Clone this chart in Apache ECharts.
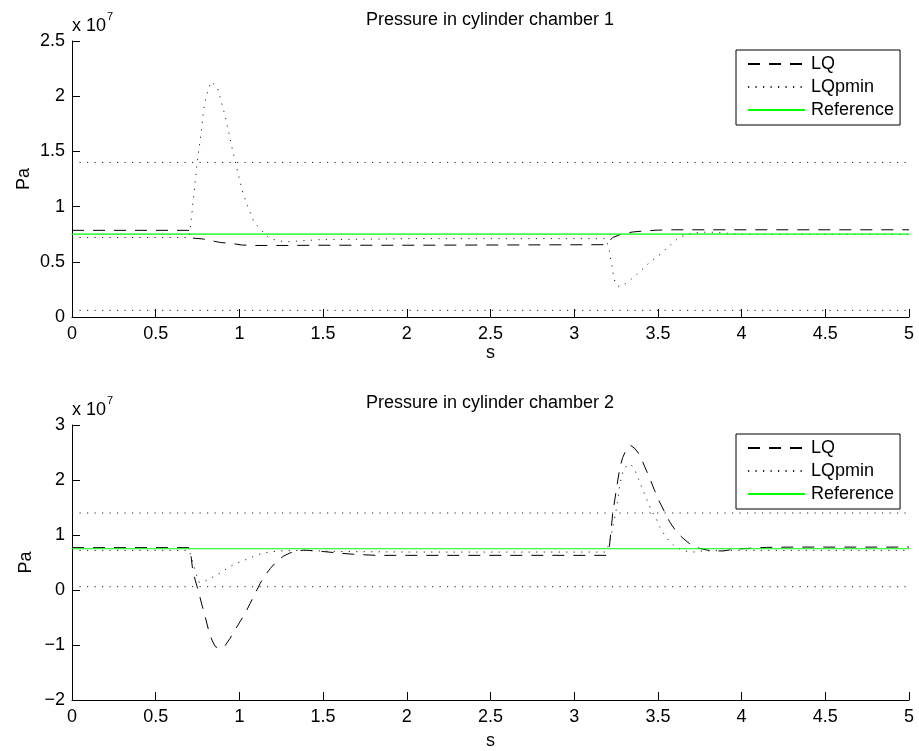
<!DOCTYPE html>
<html>
<head>
<meta charset="utf-8">
<script src="https://cdn.jsdelivr.net/npm/echarts@6/dist/echarts.min.js"></script>
<style>
html,body{margin:0;padding:0;background:#fff;}
#chart{width:919px;height:751px;}
</style>
</head>
<body>
<div id="chart"></div>
<script>
// Values in units of 1e7 Pa (axes show "x 10^7")
const titles = ['Pressure in cylinder chamber 1', 'Pressure in cylinder chamber 2'];
const legendNames = ['LQ', 'LQpmin', 'Reference'];
const xTicks = { min: 0, max: 5, interval: 0.5 };
const yTicks1 = { min: 0, max: 2.5, interval: 0.5 };
const yTicks2 = { min: -2, max: 3, interval: 1 };

// Chamber 1
const lq1T = [0, 0.70, 0.705, 0.72, 0.785, 0.886, 0.955, 1.015, 1.08, 1.31, 1.45, 2.0, 3.19, 3.20, 3.23, 3.29, 3.35, 3.42, 3.50, 3.60, 3.8, 5];
const lq1V = [0.785, 0.785, 0.76, 0.715, 0.706, 0.675, 0.666, 0.652, 0.648, 0.648, 0.650, 0.650, 0.655, 0.66, 0.72, 0.755, 0.77, 0.78, 0.787, 0.79, 0.79, 0.79];
const lqp1T = [0, 0.70, 0.71, 0.73, 0.75, 0.77, 0.786, 0.80, 0.83, 0.866, 0.89, 0.915, 0.935, 0.955, 0.975, 0.995, 1.02, 1.05, 1.085, 1.115, 1.18, 1.27, 1.37, 1.47, 2.0, 3.19, 3.20, 3.21, 3.22, 3.23, 3.235, 3.25, 3.27, 3.29, 3.33, 3.37, 3.405, 3.44, 3.48, 3.52, 3.55, 3.59, 3.61, 3.65, 3.7, 3.8, 4.0, 5];
const lqp1V = [0.72, 0.72, 0.85, 1.14, 1.43, 1.65, 1.87, 1.99, 2.13, 2.09, 1.96, 1.82, 1.68, 1.54, 1.41, 1.28, 1.13, 1.0, 0.87, 0.81, 0.71, 0.68, 0.69, 0.70, 0.71, 0.71, 0.71, 0.60, 0.50, 0.43, 0.36, 0.29, 0.275, 0.285, 0.33, 0.38, 0.43, 0.48, 0.53, 0.575, 0.62, 0.67, 0.70, 0.735, 0.76, 0.77, 0.75, 0.75];
const ref1T = [0, 5];
const ref1V = [0.75, 0.75];

// Chamber 2
const lq2T = [0, 0.70, 0.707, 0.72, 0.736, 0.756, 0.776, 0.79, 0.815, 0.836, 0.856, 0.885, 0.915, 0.945, 0.975, 1.005, 1.035, 1.065, 1.095, 1.124, 1.154, 1.184, 1.224, 1.263, 1.303, 1.383, 1.44, 1.50, 1.60, 1.68, 1.82, 2.0, 3.19, 3.20, 3.21, 3.22, 3.23, 3.245, 3.257, 3.273, 3.29, 3.313, 3.337, 3.363, 3.393, 3.423, 3.453, 3.48, 3.51, 3.54, 3.57, 3.61, 3.65, 3.70, 3.75, 3.82, 3.89, 3.95, 4.03, 4.15, 4.3, 5];
const lq2V = [0.77, 0.77, 0.72, 0.39, 0.18, -0.03, -0.27, -0.42, -0.72, -0.91, -1.03, -1.07, -1.01, -0.875, -0.72, -0.57, -0.42, -0.24, -0.06, 0.12, 0.27, 0.39, 0.525, 0.615, 0.675, 0.725, 0.715, 0.70, 0.67, 0.65, 0.63, 0.63, 0.63, 0.63, 0.78, 1.09, 1.39, 1.69, 1.93, 2.23, 2.41, 2.57, 2.63, 2.57, 2.45, 2.23, 2.02, 1.81, 1.60, 1.42, 1.24, 1.06, 0.94, 0.815, 0.755, 0.71, 0.71, 0.74, 0.755, 0.775, 0.78, 0.78];
const lqp2T = [0, 0.70, 0.71, 0.736, 0.756, 0.77, 0.786, 0.845, 0.885, 0.925, 0.975, 1.015, 1.054, 1.10, 1.144, 1.18, 1.23, 1.35, 1.6, 2.0, 3.19, 3.20, 3.215, 3.235, 3.254, 3.273, 3.29, 3.313, 3.337, 3.36, 3.38, 3.40, 3.42, 3.44, 3.46, 3.49, 3.51, 3.54, 3.57, 3.61, 3.66, 3.71, 3.77, 3.9, 5];
const lqp2V = [0.72, 0.72, 0.69, 0.36, 0.15, 0.13, 0.15, 0.24, 0.31, 0.39, 0.48, 0.525, 0.57, 0.63, 0.675, 0.69, 0.71, 0.72, 0.70, 0.69, 0.69, 0.69, 0.9, 1.21, 1.51, 1.93, 2.14, 2.26, 2.29, 2.2, 2.05, 1.9, 1.75, 1.6, 1.45, 1.3, 1.15, 1.0, 0.875, 0.775, 0.71, 0.69, 0.71, 0.72, 0.72];
const ref2T = [0, 5];
const ref2V = [0.75, 0.75];

// Pressure limits (dotted horizontal lines)
const limT = [0, 5];
const pMaxV = [1.4, 1.4];
const pMinV = [0.06, 0.06];

const zip = (t, v) => t.map((x, i) => [x, v[i]]);
const FONT = 'Liberation Sans, Arial, Helvetica, sans-serif';
const dashStyle = { color: '#000', width: 1, type: [12, 9] };
const dotStyle = { color: '#222', width: 1, type: [1.2, 6.3] };
const greenStyle = { color: '#00ff00', width: 1.2, type: 'solid' };

const grids = [
  { left: 72, right: 10, top: 41, height: 276 },
  { left: 72, right: 10, top: 425, height: 276 }
];

function xAx(gi, gap) {
  return {
    type: 'value', gridIndex: gi, min: xTicks.min, max: xTicks.max, interval: xTicks.interval,
    name: 's', nameLocation: 'middle', nameGap: gap, nameMoveOverlap: false,
    nameTextStyle: { color: '#000', fontSize: 18, fontFamily: FONT },
    axisLine: { show: true, onZero: false, lineStyle: { color: '#000', width: 1 } },
    axisTick: { show: true, inside: true, length: 8, lineStyle: { color: '#000' } },
    axisLabel: { color: '#000', fontSize: 18, fontFamily: FONT, margin: 8 },
    splitLine: { show: false }
  };
}
function yAx(gi, tk, gap) {
  return {
    type: 'value', gridIndex: gi, min: tk.min, max: tk.max, interval: tk.interval,
    name: 'Pa', nameLocation: 'middle', nameGap: gap, nameMoveOverlap: false,
    nameTextStyle: { color: '#000', fontSize: 18, fontFamily: FONT },
    axisLine: { show: true, onZero: false, lineStyle: { color: '#000', width: 1 } },
    axisTick: { show: true, inside: true, length: 8, lineStyle: { color: '#000' } },
    axisLabel: { color: '#000', fontSize: 18, fontFamily: FONT, margin: 7,
      formatter: v => String(v).replace('-', '\u2212') },
    splitLine: { show: false }
  };
}
function line(name, gi, data, style, z) {
  return {
    name: name, type: 'line', xAxisIndex: gi, yAxisIndex: gi, data: data,
    showSymbol: false, symbol: 'none', lineStyle: style,
    itemStyle: { color: style.color, opacity: 0 },
    z: z || 2, silent: true
  };
}
function legendAt(top) {
  return {
    data: legendNames, orient: 'vertical', left: 736, top: top,
    itemWidth: 57, itemHeight: 18, itemGap: 5,
    padding: [5, 6, 6, 11],
    borderColor: '#000', borderWidth: 1, backgroundColor: '#fff',
    itemStyle: { opacity: 0 },
    textStyle: { color: '#000', fontSize: 18, fontFamily: FONT, lineHeight: 18, padding: [0, 0, 0, 1] },
    selectedMode: false
  };
}

const chart = echarts.init(document.getElementById('chart'), null, { renderer: 'canvas' });
chart.setOption({
  animation: false,
  backgroundColor: '#fff',
  grid: grids,
  xAxis: [xAx(0, 27), xAx(1, 32)],
  yAxis: [yAx(0, yTicks1, 39), yAx(1, yTicks2, 37)],
  legend: [legendAt(50), legendAt(434)],
  series: [
    line('lim', 0, zip(limT, pMaxV), dotStyle, 1),
    line('lim', 0, zip(limT, pMinV), dotStyle, 1),
    line('LQ', 0, zip(lq1T, lq1V), dashStyle, 2),
    line('LQpmin', 0, zip(lqp1T, lqp1V), dotStyle, 2),
    line('Reference', 0, zip(ref1T, ref1V), greenStyle, 3),
    line('lim', 1, zip(limT, pMaxV), dotStyle, 1),
    line('lim', 1, zip(limT, pMinV), dotStyle, 1),
    line('LQ', 1, zip(lq2T, lq2V), dashStyle, 2),
    line('LQpmin', 1, zip(lqp2T, lqp2V), dotStyle, 2),
    line('Reference', 1, zip(ref2T, ref2V), greenStyle, 3)
  ],
  graphic: [
    { type: 'text', x: 490, y: 20, style: { text: titles[0], font: '18px ' + FONT, fill: '#000', textAlign: 'center', textVerticalAlign: 'middle' } },
    { type: 'text', x: 490, y: 403, style: { text: titles[1], font: '18px ' + FONT, fill: '#000', textAlign: 'center', textVerticalAlign: 'middle' } },
    { type: 'text', x: 72, y: 26, style: { text: 'x 10', font: '18px ' + FONT, fill: '#000', textAlign: 'left', textVerticalAlign: 'middle' } },
    { type: 'text', x: 107, y: 17, style: { text: '7', font: '11px ' + FONT, fill: '#000', textAlign: 'left', textVerticalAlign: 'middle' } },
    { type: 'text', x: 72, y: 410, style: { text: 'x 10', font: '18px ' + FONT, fill: '#000', textAlign: 'left', textVerticalAlign: 'middle' } },
    { type: 'text', x: 107, y: 401, style: { text: '7', font: '11px ' + FONT, fill: '#000', textAlign: 'left', textVerticalAlign: 'middle' } }
  ]
});
</script>
</body>
</html>
